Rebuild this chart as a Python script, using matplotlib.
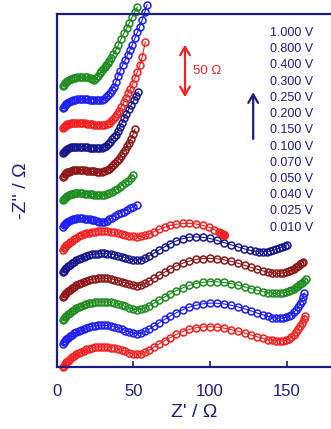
import matplotlib
matplotlib.use('Agg')
import matplotlib.pyplot as plt

plt.rcParams['font.family'] = ['Liberation Sans', 'DejaVu Sans']

# potentials, bottom spectrum first
potentials = ['0.010 V', '0.025 V', '0.040 V', '0.050 V', '0.070 V', '0.100 V', '0.150 V',
              '0.200 V', '0.250 V', '0.300 V', '0.400 V', '0.800 V', '1.000 V']
offsets = [0, 20, 40, 60, 80, 100, 120, 140, 160, 180, 200, 220, 240]  # vertical shift, Ohm
colors = ['#f72020', '#1e1ef7', '#1f8c1f', '#8c1616', '#16168c'] * 3

# Z' and -Z'' (Ohm) for each potential
zre_010 = [4.0, 4.6, 5.4, 6.3, 7.4, 8.6, 9.9, 11.3, 12.8, 14.4, 16.0, 17.7, 19.4, 21.2, 23.0, 24.9,
           26.8, 28.8, 30.9, 33.0, 35.2, 37.5, 39.9, 42.3, 44.8, 47.3, 49.8, 52.3, 54.9, 57.6, 60.5,
           63.6, 66.9, 70.4, 74.1, 78.0, 82.1, 86.4, 90.8, 95.3, 99.9, 104.5, 109.1, 113.7, 118.2,
           122.6, 126.8, 130.8, 134.5, 137.8, 140.7, 143.3, 145.6, 147.7, 149.6, 151.4, 153.1, 154.7,
           156.2, 157.6, 158.9, 160.1, 161.2, 162.2]
zim_010 = [0.0, 1.3, 2.7, 4.0, 5.4, 6.8, 8.2, 9.6, 10.9, 12.1, 13.2, 14.2, 15.1, 15.8, 16.4, 16.9,
           17.2, 17.4, 17.4, 17.2, 16.8, 16.2, 15.4, 14.5, 13.5, 12.4, 11.4, 11.0, 11.5, 12.9, 14.9,
           17.3, 19.9, 22.6, 25.3, 28.0, 30.4, 32.4, 33.8, 34.5, 34.7, 34.3, 33.5, 32.3, 30.9,
           29.3, 27.6, 26.0, 24.6, 23.6, 22.9, 22.5, 22.4, 22.6, 23.1, 24.0, 25.7, 27.6,
           30.0, 32.5, 35.3, 38.2, 41.2, 44.3]

zre_025 = [4.0, 4.6, 5.4, 6.3, 7.4, 8.6, 9.9, 11.3, 12.8, 14.4, 16.0, 17.7, 19.4, 21.2, 23.0, 24.9,
           26.8, 28.8, 30.9, 33.0, 35.2, 37.5, 39.9, 42.3, 44.8, 47.3, 49.8, 52.3, 54.9, 57.6, 60.5,
           63.6, 66.9, 70.4, 74.1, 78.0, 82.1, 86.4, 90.8, 95.3, 99.9, 104.5, 109.1, 113.7, 118.2,
           122.6, 126.8, 130.8, 134.5, 137.8, 140.7, 143.3, 145.6, 147.7, 149.6, 151.4, 153.1, 154.7,
           156.2, 157.6, 158.8, 159.9, 160.8, 161.6]
zim_025 = [0.0, 1.2, 2.5, 3.7, 5.0, 6.3, 7.6, 8.9, 10.1, 11.2, 12.2, 13.1, 13.9, 14.6, 15.1, 15.6,
           15.9, 16.0, 16.0, 15.8, 15.3, 14.6, 13.7, 12.6, 11.4, 10.2, 9.1, 8.6, 9.1, 10.6, 12.8,
           15.3, 18.1, 21.0, 23.9, 26.7, 29.3, 31.5, 33.2, 34.4, 35.0, 34.9, 34.3, 33.2, 31.8,
           30.1, 28.3, 26.5, 24.9, 23.6, 22.6, 22.0, 21.9, 22.2, 22.8, 23.8, 25.2, 27.0,
           29.2, 31.6, 34.3, 37.1, 40.2, 43.5]

zre_040 = [4.0, 4.6, 5.4, 6.3, 7.4, 8.6, 9.9, 11.3, 12.8, 14.4, 16.0, 17.7, 19.4, 21.2, 23.0, 24.9,
           26.8, 28.8, 30.9, 33.0, 35.2, 37.5, 39.9, 42.3, 44.8, 47.3, 49.8, 52.3, 54.9, 57.6, 60.5,
           63.6, 66.9, 70.4, 74.1, 78.0, 82.1, 86.4, 90.8, 95.3, 99.9, 104.5, 109.1, 113.7, 118.2,
           122.6, 126.8, 130.8, 134.5, 137.8, 140.7, 143.3, 145.6, 147.7, 149.6, 151.4, 153.1, 154.7,
           156.2, 157.6, 158.9, 160.2, 161.4, 162.6]
zim_040 = [0.5, 1.7, 3.0, 4.2, 5.5, 6.8, 8.1, 9.3, 10.5, 11.6, 12.6, 13.5, 14.3, 15.0, 15.5, 15.9,
           16.2, 16.3, 16.2, 16.0, 15.6, 15.0, 14.2, 13.3, 12.2, 11.0, 9.9, 9.3, 9.6, 10.9, 12.8,
           15.1, 17.7, 20.4, 23.1, 25.7, 28.1, 30.2, 31.9, 33.0, 33.5, 33.4, 32.8, 31.8, 30.5,
           29.1, 27.6, 26.2, 25.0, 24.1, 23.6, 23.4, 23.5, 23.9, 24.5, 25.3, 26.3, 27.4,
           28.6, 29.9, 31.3, 32.7, 34.2, 35.8]

zre_050 = [4.0, 4.6, 5.4, 6.3, 7.4, 8.6, 9.9, 11.3, 12.8, 14.4, 16.0, 17.7, 19.4, 21.2, 23.0, 24.9,
           26.8, 28.8, 30.9, 33.0, 35.2, 37.5, 39.9, 42.3, 44.8, 47.3, 49.8, 52.3, 54.9, 57.6, 60.5,
           63.6, 66.9, 70.4, 74.1, 78.0, 82.1, 86.4, 90.8, 95.3, 99.9, 104.5, 109.1, 113.7, 118.2,
           122.6, 126.8, 130.8, 134.5, 137.8, 140.7, 143.3, 145.6, 147.7, 149.6, 151.4, 153.1, 154.7,
           156.2, 157.6, 158.9, 160.0, 160.9]
zim_050 = [0.0, 1.3, 2.6, 3.9, 5.2, 6.5, 7.8, 9.1, 10.3, 11.5, 12.5, 13.5, 14.3, 15.0, 15.6, 16.0,
           16.3, 16.5, 16.5, 16.3, 15.9, 15.3, 14.5, 13.6, 12.6, 11.5, 10.5, 10.1, 10.6, 12.0, 14.0,
           16.4, 19.0, 21.7, 24.4, 27.0, 29.3, 31.2, 32.6, 33.4, 33.6, 33.2, 32.3, 31.0, 29.4,
           27.6, 25.8, 24.2, 22.8, 21.7, 21.0, 20.7, 20.7, 21.0, 21.6, 22.4, 23.4, 24.6,
           25.9, 27.2, 28.5, 29.7, 30.7]

zre_070 = [4.0, 4.6, 5.4, 6.3, 7.4, 8.6, 9.9, 11.3, 12.8, 14.4, 16.0, 17.7, 19.4, 21.2, 23.0, 24.9,
           26.8, 28.8, 30.9, 33.0, 35.2, 37.5, 39.9, 42.3, 44.8, 47.3, 49.8, 52.3, 54.9, 57.6, 60.5,
           63.6, 66.9, 70.4, 74.1, 78.0, 82.1, 86.4, 90.8, 95.3, 99.9, 104.5, 109.1, 113.6, 118.0,
           122.2, 126.0, 129.4, 132.3, 134.8, 137.1, 139.3, 141.4, 143.4, 145.3, 147.1, 148.7, 150.2]
zim_070 = [1.5, 2.8, 4.1, 5.4, 6.8, 8.1, 9.4, 10.7, 11.9, 13.0, 14.0, 14.9, 15.7, 16.4, 17.0, 17.4,
           17.7, 17.9, 17.9, 17.7, 17.3, 16.7, 16.0, 15.1, 14.1, 13.1, 12.3, 12.0, 12.5, 13.8, 15.8,
           18.2, 20.8, 23.5, 26.2, 28.6, 30.5, 31.7, 32.1, 31.7, 30.7, 29.1, 27.2, 25.3, 23.5,
           21.9, 20.6, 19.8, 19.3, 19.2, 19.4, 19.9, 20.6, 21.5, 22.4, 23.4, 24.3, 25.2]

zre_100 = [4.0, 4.6, 5.4, 6.3, 7.4, 8.6, 9.9, 11.3, 12.8, 14.4, 16.0, 17.7, 19.4, 21.2, 23.0, 24.9,
           26.8, 28.8, 30.9, 33.0, 35.2, 37.5, 39.9, 42.3, 44.8, 47.3, 49.8, 52.3, 54.9, 57.6, 60.5,
           63.6, 66.9, 70.4, 74.1, 78.0, 82.1, 86.4, 90.8, 95.2, 99.3, 102.9, 105.6, 107.3, 108.3, 109.0]
zim_100 = [0.8, 2.1, 3.4, 4.7, 6.1, 7.4, 8.7, 10.0, 11.2, 12.4, 13.4, 14.3, 15.1, 15.8, 16.3, 16.7,
           17.0, 17.1, 17.0, 16.8, 16.4, 15.9, 15.2, 14.5, 13.7, 13.0, 12.4, 12.2, 12.5, 13.4, 14.9,
           16.7, 18.6, 20.4, 21.9, 23.0, 23.6, 23.7, 23.2, 22.0, 20.3, 18.4, 16.6, 15.3, 14.4, 13.8]

zre_150 = [4.0, 4.5, 5.2, 6.0, 7.0, 8.1, 9.3, 10.6, 12.0, 13.5, 15.0, 16.6, 18.2, 19.8, 21.4, 23.0,
           24.6, 26.2, 27.8, 29.4, 31.0, 32.7, 34.4, 36.2, 38.0, 39.9, 41.8, 43.8, 45.8, 47.9, 50.0, 52.2]
zim_150 = [0.8, 1.9, 3.0, 4.0, 5.0, 5.9, 6.6, 7.2, 7.7, 8.0, 8.1, 8.1, 7.9, 7.6, 7.2, 6.7,
           6.2, 5.7, 5.3, 5.1, 5.2, 6.0, 7.2, 8.6, 10.2, 11.5, 12.7, 13.9, 15.2, 16.6, 18.0, 19.5]

zre_200 = [4.0, 4.5, 5.2, 6.0, 7.0, 8.1, 9.3, 10.6, 12.0, 13.5, 15.0, 16.6, 18.2, 19.8, 21.4, 23.0,
           24.6, 26.2, 27.8, 29.4, 31.0, 32.7, 34.4, 36.1, 37.8, 39.5, 41.2, 42.9, 44.6, 46.4, 48.2, 50.0]
zim_200 = [3.8, 4.8, 5.8, 6.7, 7.5, 8.2, 8.8, 9.2, 9.5, 9.6, 9.6, 9.5, 9.3, 9.1, 8.8, 8.6,
           8.4, 8.2, 8.1, 8.1, 8.4, 9.0, 9.9, 10.9, 12.2, 13.7, 15.3, 16.9, 18.3, 20.5, 22.9, 25.4]

zre_250 = [4.0, 4.5, 5.2, 6.0, 7.0, 8.1, 9.3, 10.6, 12.0, 13.5, 15.0, 16.6, 18.2, 19.8, 21.4, 23.0,
           24.6, 26.2, 27.8, 29.4, 31.0, 32.5, 34.0, 35.4, 36.8, 38.1, 39.4, 40.7, 42.0, 43.3, 44.6,
           45.9, 47.2, 48.5, 49.8, 51.1]
zim_250 = [3.9, 4.9, 5.9, 6.8, 7.6, 8.3, 8.9, 9.3, 9.6, 9.7, 9.7, 9.6, 9.4, 9.1, 8.9, 8.6,
           8.4, 8.2, 8.1, 8.2, 8.6, 9.4, 10.6, 12.1, 13.8, 15.6, 17.5, 19.5, 21.7, 24.3, 27.2,
           30.2, 33.3, 36.8, 40.3, 45.0]

zre_300 = [4.0, 4.5, 5.2, 6.0, 7.0, 8.1, 9.3, 10.6, 12.0, 13.5, 15.0, 16.6, 18.2, 19.8, 21.4, 23.0,
           24.6, 26.2, 27.8, 29.4, 30.9, 32.3, 33.7, 35.0, 36.3, 37.5, 38.7, 39.9, 41.2, 42.6, 44.0,
           45.5, 47.0, 48.6, 50.3, 51.8, 53.2]
zim_300 = [4.1, 5.1, 6.1, 7.0, 7.8, 8.5, 9.1, 9.5, 9.8, 9.9, 9.9, 9.8, 9.6, 9.3, 9.0, 8.8,
           8.6, 8.4, 8.4, 8.6, 9.3, 10.6, 12.3, 14.2, 16.1, 17.9, 20.2, 23.2, 26.6, 30.4, 34.2,
           38.3, 42.2, 45.9, 49.6, 53.6, 57.0]

zre_400 = [4.0, 4.5, 5.2, 6.0, 7.0, 8.1, 9.3, 10.6, 12.0, 13.5, 15.0, 16.6, 18.2, 19.8, 21.4, 23.0,
           24.6, 26.2, 27.8, 29.4, 31.0, 32.5, 34.0, 35.4, 36.8, 38.1, 39.4, 40.8, 42.2, 43.6, 45.0,
           46.5, 48.0, 49.5, 51.0, 52.6, 54.3, 55.8, 57.8]
zim_400 = [5.6, 6.6, 7.5, 8.3, 9.0, 9.5, 9.9, 10.2, 10.4, 10.4, 10.3, 10.1, 9.9, 9.6, 9.3, 9.0,
           8.8, 8.6, 8.4, 8.3, 8.4, 9.0, 10.1, 11.6, 13.4, 15.4, 17.9, 20.8, 24.2, 28.0, 31.9,
           35.6, 39.6, 43.9, 48.8, 54.0, 60.0, 67.3, 80.0]

zre_800 = [4.0, 4.5, 5.2, 6.0, 7.0, 8.1, 9.3, 10.6, 12.0, 13.5, 15.0, 16.6, 18.2, 19.8, 21.4, 23.0,
           24.6, 26.2, 27.8, 29.4, 30.9, 32.2, 33.4, 34.6, 35.8, 37.2, 38.6, 40.0, 41.5, 43.0, 44.6,
           46.2, 47.8, 49.4, 51.0, 52.6, 54.2, 55.8, 57.4, 59.0]
zim_800 = [2.8, 4.1, 5.4, 6.5, 7.5, 8.4, 9.1, 9.7, 10.1, 10.4, 10.6, 10.6, 10.5, 10.4, 10.3, 10.2,
           10.1, 10.0, 10.0, 10.1, 10.9, 12.2, 13.9, 15.9, 18.3, 21.4, 25.5, 30.5, 35.3, 40.0, 44.4,
           49.0, 53.3, 57.7, 63.0, 68.2, 73.2, 79.0, 85.5, 92.0]

zre_1000 = [4.0, 4.5, 5.2, 6.0, 7.0, 8.1, 9.3, 10.6, 12.0, 13.5, 15.0, 16.6, 18.2, 19.8, 21.4, 23.0,
            24.5, 25.9, 27.2, 28.2, 29.2, 30.2, 31.2, 32.2, 33.2, 34.3, 35.5, 37.0, 38.6, 40.3,
            42.0, 43.8, 45.6, 47.4, 49.2, 51.0, 52.5]
zim_1000 = [2.0, 3.2, 4.4, 5.5, 6.5, 7.4, 8.1, 8.7, 9.2, 9.6, 9.9, 10.0, 9.9, 9.6, 9.1, 8.4,
            7.6, 8.6, 10.8, 12.8, 14.6, 16.6, 18.2, 19.9, 21.6, 23.6, 26.0, 29.4, 33.0, 37.7,
            42.6, 47.3, 52.0, 56.5, 61.2, 66.0, 70.0]

zre_all = [zre_010, zre_025, zre_040, zre_050, zre_070, zre_100, zre_150,
           zre_200, zre_250, zre_300, zre_400, zre_800, zre_1000]
zim_all = [zim_010, zim_025, zim_040, zim_050, zim_070, zim_100, zim_150,
           zim_200, zim_250, zim_300, zim_400, zim_800, zim_1000]

navy = '#1c1c80'

fig = plt.figure(figsize=(3.31, 4.29), dpi=100)
ax = fig.add_axes([0.1713, 0.1445, 0.8335, 0.8228])

for zre, zim, off, c in zip(zre_all, zim_all, offsets, colors):
    ax.plot(zre, [v + off for v in zim], '-o', color=c, mfc='none', ms=5, mew=1.1, lw=0.8,
            clip_on=False)

# last point of the 0.100 V spectrum is drawn filled
ax.plot(zre_100[-1], zim_100[-1] + offsets[5], 'o', color=colors[5], ms=5.5, clip_on=False)

ax.set_xlim(0, 180)
ax.set_ylim(0, 304)
ax.set_xticks([0, 50, 100, 150])
ax.set_yticks([])
ax.tick_params(axis='x', direction='in', length=4, width=1.2, color=navy, labelcolor=navy,
               labelsize=12, pad=12)
for s in ax.spines.values():
    s.set_color(navy)
    s.set_linewidth(1.6)

ax.set_xlabel("Z' / \u03a9", color=navy, fontsize=14)
ax.xaxis.set_label_coords(0.5, -0.105)
ax.set_ylabel("-Z'' / \u03a9", color=navy, fontsize=14)
ax.yaxis.set_label_coords(-0.095, 0.5)

# 50 Ohm scale bar
ax.annotate('', xy=(83.7, 280), xytext=(83.7, 230),
            arrowprops=dict(arrowstyle='<->,head_length=0.6,head_width=0.35', color=colors[0], lw=1.6))
ax.text(89, 255, '50 \u03a9', color=colors[0], fontsize=9.5, va='center', ha='left')

# direction of increasing potential
ax.annotate('', xy=(128.2, 239), xytext=(128.2, 194),
            arrowprops=dict(arrowstyle='->,head_length=0.6,head_width=0.35', color=navy, lw=1.6))

for i, lab in enumerate(potentials[::-1]):
    ax.text(0.773, 0.946 - i * 0.0459, lab, transform=ax.transAxes, color=navy,
            fontsize=9, va='center', ha='left')

fig.savefig('out.png', dpi=100)
